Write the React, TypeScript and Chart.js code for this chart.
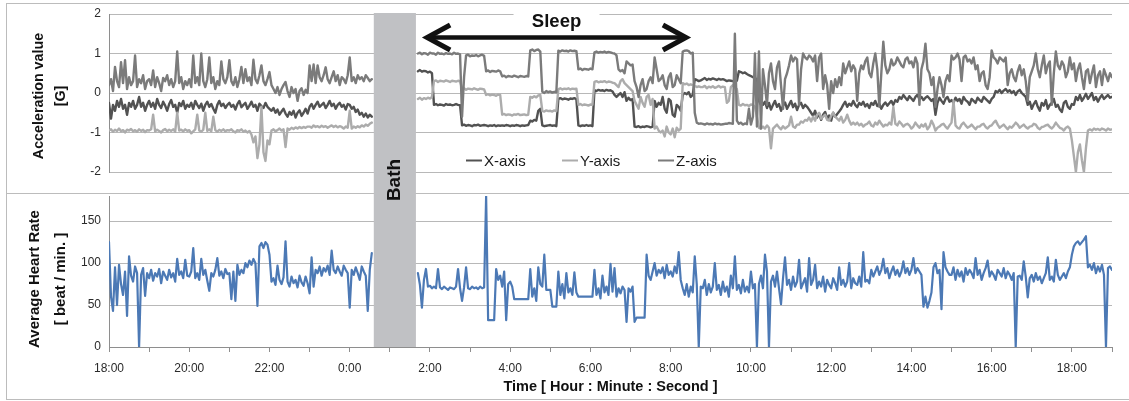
import React, { useEffect, useRef } from 'react';
import { Chart, registerables } from 'chart.js';

Chart.register(...registerables);

// ---------- data (one sample every 3 minutes, starting 18:00) ----------
const SAMPLE_HOURS = 0.05;
const xTickLabels = ['18:00', '20:00', '22:00', '0:00', '2:00', '4:00', '6:00', '8:00', '10:00', '12:00', '14:00', '16:00', '18:00'];
const accTicks = [-2, -1, 0, 1, 2];
const hrTicks = [0, 50, 100, 150];
const bathStartHour = 6.6;
const bathEndHour = 7.65;
const sleepStartHour = 7.83;
const sleepEndHour = 14.48;
const seriesNames = ['X-axis', 'Y-axis', 'Z-axis'];

const N = null;
const bathGap = [N, N, N, N, N, N, N, N, N, N, N, N, N, N, N, N, N, N, N, N, N, N];

const accX = [
  -0.25, -0.65, -0.3, -0.45, -0.2, -0.35, -0.15, -0.4, -0.3, -0.55, -0.25, -0.35, -0.2, -0.4, -0.3, -0.1, -0.35, -0.25, -0.45, -0.3,
  -0.2, -0.35, -0.25, -0.4, -0.15, -0.3, -0.38, -0.22, -0.32, -0.45, -0.28, -0.18, -0.35, -0.3, -0.5, -0.25, -0.33, -0.2, -0.4, -0.3,
  -0.35, -0.25, -0.4, -0.2, -0.3, -0.38, -0.27, -0.45, -0.3, -0.22, -0.35, -0.28, -0.4, -0.5, -0.3, -0.2, -0.33, -0.27, -0.38, -0.3,
  -0.25, -0.35, -0.3, -0.42, -0.28, -0.2, -0.36, -0.3, -0.25, -0.4, -0.32, -0.22, -0.35, -0.3, -0.45, -0.27, -0.33, -0.38, -0.25, -0.35,
  -0.4, -0.45, -0.38, -0.5, -0.42, -0.55, -0.47, -0.4, -0.52, -0.6, -0.48, -0.55, -0.45, -0.62, -0.5, -0.44, -0.58, -0.5, -0.4, -0.52,
  -0.35, -0.28, -0.4, -0.3, -0.22, -0.35, -0.3, -0.25, -0.38, -0.3, -0.2, -0.33, -0.27, -0.4, -0.3, -0.25, -0.35, -0.3, -0.42, -0.28,
  -0.3, -0.4, -0.35, -0.48, -0.42, -0.55, -0.5, -0.6, -0.52, -0.62, -0.55, -0.6,
  ...bathGap,
  0.55, 0.58, 0.54, 0.56, 0.55, 0.52, 0.54, 0.5,
  -0.3, -0.28, -0.31, -0.29, -0.3, -0.32, -0.28, -0.3, -0.29, -0.31, -0.3, -0.28, -0.3, -0.31,
  -0.82, -0.8, -0.83, -0.81, -0.82, -0.84, -0.81, -0.82, -0.8, -0.83, -0.82, -0.81,
  -0.82, -0.84, -0.82, -0.83, -0.81, -0.84, -0.82, -0.83,
  -0.82, -0.83, -0.81, -0.82, -0.84, -0.82, -0.83, -0.81, -0.82, -0.84, -0.82, -0.83, -0.82, -0.81,
  -0.7, -0.72, -0.68, -0.7, -0.45, -0.4,
  -0.82, -0.84, -0.83, -0.82, -0.81, -0.83, -0.82, -0.84,
  -0.15, -0.13, -0.16, -0.14, -0.15, -0.17, -0.14, -0.15, -0.13, -0.16,
  -0.82, -0.84, -0.82, -0.83, -0.81, -0.83, -0.82, -0.84,
  0.07, 0.05, 0.08, 0.06, 0.07, 0.05, 0.08, 0.06, 0.07, 0.04, -0.05, -0.1,
  -0.05, 0.0, -0.1, 0.02, -0.2, -0.12, -0.18, -0.15,
  -0.85, -0.86, -0.84, -0.87, -0.85, -0.86, -0.84, -0.85, -0.87, -0.85,
  -0.2, -0.35, -0.25, -0.3,
  -0.1, -0.4, -0.5, -0.15, -0.2, -0.55, -0.6, -0.3, -0.35, -0.45,
  -0.05, 0.0, -0.03, 0.02, -0.1, -0.05,
  0.35, 0.33, 0.3, 0.32,
  0.35, 0.38, 0.33, 0.36, 0.34, 0.37, 0.35, 0.33, 0.36, 0.34, 0.35, 0.33,
  0.3, 0.32, 0.31, 0.3,
  0.3, 0.31,
  0.55, 0.53, 0.5, 0.52, 0.48, 0.45, 0.43, 0.4, 0.38, 0.35, -0.2, -0.3,
  -0.3, -0.22, -0.38, -0.25, -0.42, -0.3, -0.2, -0.35, -0.28, -0.45, -0.32, -0.24, -0.4, -0.3, -0.2, -0.36, -0.27, -0.43, -0.3, -0.25, -0.38, -0.3, -0.35, -0.42,
  -0.5, -0.58, -0.45, -0.62, -0.52, -0.68, -0.55, -0.48, -0.65, -0.57, -0.7, -0.5, -0.6, -0.53, -0.47, -0.4,
  -0.3, -0.22, -0.35, -0.27, -0.32, -0.2, -0.3, -0.36, -0.25, -0.3, -0.22, -0.34, -0.28, -0.38, -0.25, -0.3, -0.2, -0.33, -0.27, -0.4, -0.3, -0.24, -0.32, -0.26, -0.2, -0.3, -0.18, -0.22,
  -0.1, -0.15, -0.05, -0.12, -0.18, -0.08, -0.14, -0.2, -0.1, -0.05, -0.15, -0.1, -0.18, -0.12, -0.08, -0.14,
  -0.2, -0.15, -0.55, -0.25, -0.12, -0.2, -0.27, -0.15, -0.1, -0.22, -0.18, -0.25, -0.12, -0.2, -0.15, -0.27, -0.1, -0.18, -0.22, -0.3, -0.15, -0.2, -0.25, -0.12, -0.18, -0.22, -0.1, -0.15, -0.2, -0.25, -0.15, -0.1,
  0.05, 0.02, 0.08, 0.0, 0.06, 0.1, 0.03, 0.07, 0.0, 0.05, -0.05, 0.04, 0.08, 0.0, -0.05, -0.1,
  -0.3, -0.22, -0.4, -0.28, -0.2, -0.35, -0.45, -0.25, -0.32, -0.18, -0.4, -0.3, -0.25, -0.15, -0.35, -0.3, -0.42, -0.48, -0.25, -0.2, -0.35, -0.4, -0.28, -0.3,
  -0.1, -0.18, -0.05, -0.2, -0.12, -0.02, -0.15, -0.08, 0.0, -0.18, -0.1, -0.22, -0.12, -0.05, -0.15, -0.1, -0.05, -0.12, -0.1,
];

const accY = [
  -0.95, -0.92, -0.98, -0.93, -0.96, -0.9, -0.97, -0.94, -1.0, -0.93, -0.95, -0.91, -0.97, -0.94, -0.98, -0.92, -0.96, -0.93, -0.99, -0.94,
  -0.95, -0.92, -0.55, -0.97, -0.93, -0.96, -1.0, -0.94, -0.91, -0.97, -0.93, -0.96, -0.92, -0.98, -0.5, -0.95, -0.93, -0.97, -0.92, -0.96,
  -0.94, -1.02, -0.97, -0.92, -0.55, -0.95, -0.98, -0.93, -0.5, -0.96, -0.92, -0.97, -0.6, -0.94, -0.98, -0.93, -0.96, -0.92, -0.97, -0.94,
  -0.95, -0.92, -0.97, -1.0, -0.94, -0.96, -0.92, -0.98, -0.95, -1.0, -0.96, -1.05, -1.25, -1.1, -1.65, -1.3, -0.35, -1.5, -1.72, -1.2,
  -1.3, -0.95, -0.92, -0.97, -0.94, -0.9, -0.95, -0.92, -1.37, -0.9, -0.93, -0.88, -0.91, -0.87, -0.9, -0.86, -0.89, -0.86, -0.88, -0.85,
  -0.85, -0.88, -0.82, -0.86, -0.84, -0.87, -0.83, -0.86, -0.84, -0.88, -0.85, -0.82, -0.86, -0.83, -0.87, -0.84, -0.86, -0.9, -0.85, -0.88,
  -0.45, -0.9, -0.85, -0.88, -0.84, -0.87, -0.82, -0.85, -0.8, -0.83, -0.78, -0.75,
  ...bathGap,
  -0.15, -0.12, -0.17, -0.13, -0.15, -0.12, -0.14, -0.1,
  0.3, 0.32, 0.28, 0.31, 0.3, 0.29, 0.32, 0.3, 0.28, 0.31, 0.3, 0.29, 0.31, 0.3,
  0.1, 0.12, 0.08, 0.11, 0.1, 0.09, 0.12, 0.1, 0.08, 0.11, 0.1, 0.09,
  -0.05, -0.03, -0.06, -0.04, -0.05, -0.07, -0.04, -0.05,
  -0.55, -0.53, -0.56, -0.54, -0.55, -0.57, -0.54, -0.55, -0.53, -0.56, -0.55, -0.54, -0.56, -0.55,
  -0.1, -0.12, -0.08, -0.11, -0.06, -0.05,
  -0.45, -0.47, -0.44, -0.46, -0.45, -0.47, -0.44, -0.46,
  0.1, 0.12, 0.09, 0.11, 0.1, 0.12, 0.09, 0.11, 0.1, 0.11,
  -0.3, -0.28, -0.31, -0.29, -0.3, -0.32, -0.29, -0.3,
  0.28, 0.3, 0.27, 0.29, 0.28, 0.3, 0.27, 0.29, 0.28, 0.26, 0.25, 0.2,
  0.15, 0.3, 0.35, 0.25, 0.2, 0.15, 0.1, 0.05,
  -0.2, -0.3, -0.4, -0.1, -0.25, -0.35, -0.1, -0.05, -0.3, -0.15,
  -0.9, -0.85, -0.95, -1.0,
  -0.95, -1.1, -0.85, -1.0, -1.05, -0.9, -1.12, -0.88, -0.95, -0.9,
  0.25, 0.22, 0.24, 0.2, 0.22, 0.2,
  0.18, 0.15, 0.17, 0.15,
  0.15, 0.18, 0.12, 0.16, 0.14, 0.17, 0.13, 0.15, 0.18, 0.14, 0.16, 0.15,
  -0.25, -0.2, 0.15, 0.2,
  0.15, 0.1,
  -0.3, -0.32, -0.28, -0.31, -0.3, -0.33, -0.29, -0.3, -0.35, -0.6, -0.88, -0.9,
  -0.85, -0.9, -0.82, -0.88, -1.4, -0.9, -0.85, -0.8, -0.87, -0.92, -0.84, -0.9, -0.86, -0.82, -0.6, -0.85, -0.88, -0.8,
  -0.8, -0.72, -0.75, -0.68, -0.7, -0.62, -0.72, -0.6, -0.7, -0.55, -0.5, -0.65, -0.6, -0.55, -0.68, -0.7, -0.58, -0.5, -0.6, -0.65, -0.7, -0.6, -0.75, -0.68, -0.55, -0.7, -0.8, -0.75,
  -0.8, -0.75, -0.82, -0.78, -0.85, -0.8, -0.78, -0.72, -0.82, -0.85, -0.75, -0.8, -0.7, -0.78, -0.85, -0.8, -0.82, -0.75, -0.8, -0.35, -0.78, -0.82, -0.72, -0.78, -0.85, -0.8, -0.78, -0.82,
  -0.9, -0.85, -0.75, -0.82, -0.88, -0.8, -0.85, -0.78, -0.92, -0.85, -0.7, -0.8, -0.95, -0.88, -0.85, -0.8, -0.78, -0.85, -0.9, -0.82, -0.75, -0.2, -0.82, -0.88, -0.9, -0.8, -0.75, -0.82, -0.88, -0.85, -0.8, -0.86, -0.92, -0.85,
  -0.85, -0.8, -0.78, -0.86, -0.9, -0.84, -0.82, -0.75, -0.7, -0.8, -0.88, -0.84, -0.8, -0.86, -0.92, -0.85, -0.88, -0.82, -0.75, -0.8, -0.88, -0.84, -0.8, -0.86, -0.9, -0.85, -0.84, -0.78, -0.8, -0.88, -0.92, -0.86, -0.85, -0.82, -0.8, -0.86, -0.9, -0.84, -0.75, -0.82, -0.88, -0.9, -0.95, -0.88, -0.85, -0.9,
  -1.2, -1.6, -2.0, -1.5, -1.3, -1.7, -2.0, -1.4, -0.95,
  -0.92, -0.95, -0.9, -0.93, -0.91, -0.94, -0.9, -0.92, -0.95, -0.9, -0.93, -0.92,
];

const accZ = [
  0.2, 0.35, 0.05, 0.66, 0.3, 0.15, 0.78, 0.25, 0.83, 0.1, 0.4, 0.2, 0.3, 0.95, 0.15, 0.35, 0.25, 0.45, 0.1, 0.3,
  0.35, 0.2, 0.57, 0.15, 0.4, 0.25, 0.05, 0.38, 0.3, 0.45, 0.2, 0.35, 0.15, 0.3, 1.05, 0.25, 0.4, 0.1, 0.3, 0.2,
  0.35, 0.15, 0.95, 0.25, 0.4, 0.2, 1.0, 0.3, 0.15, 0.35, 0.9, 0.25, 0.4, 0.1, 0.3, 0.2, 0.8, 0.35, 0.25, 0.4,
  0.83, 0.3, 0.2, 0.4, 0.15, 0.35, 0.66, 0.25, 0.6, 0.3, 0.4, 0.2, 0.84, 0.35, 0.25, 0.45, 0.7, 0.3, 0.2, 0.35,
  0.53, 0.2, 0.1, 0.0, 0.15, -0.05, 0.1, 0.2, 0.28, 0.05, -0.1, 0.15, 0.0, 0.1, -0.2, 0.05, 0.12, -0.05, 0.08, 0.0,
  0.7, 0.3, 0.72, 0.25, 0.7, 0.4, 0.3, 0.45, 0.65, 0.35, 0.25, 0.4, 0.55, 0.3, 0.45, 0.2, 0.4, 0.35, 0.25, 0.45,
  0.9, 0.3, 0.4, 0.25, 0.45, 0.35, 0.4, 0.3, 0.45, 0.38, 0.3, 0.35,
  ...bathGap,
  1.0, 1.02, 0.98, 1.01, 1.0, 0.97, 1.02, 1.0,
  1.0, 0.97, 1.02, 0.99, 1.0, 0.98, 1.01, 0.99, 1.0, 0.98, 1.02, 0.99, 1.0, 0.98,
  -0.6, 0.4, 0.95, 0.97, 0.93, 0.95, 0.94, 0.96, 0.93, 0.95, 0.97, 0.94,
  0.55, 0.57, 0.53, 0.56, 0.55, 0.54, 0.57, 0.55,
  0.42, 0.44, 0.4, 0.43, 0.42, 0.41, 0.44, 0.42, 0.4, 0.43, 0.42, 0.41, 0.43, 0.42,
  1.08, 1.1, 1.06, 1.09, 1.1, 1.05,
  0.03, 0.0, 0.05, 0.02, 0.04, 0.01, 0.03, 0.02,
  1.07, 1.05, 1.08, 1.06, 1.07, 1.05, 1.08, 1.06, 1.07, 1.06,
  0.6, 0.62, 0.58, 0.61, 0.6, 0.59, 0.62, 0.6,
  1.03, 1.05, 1.02, 1.04, 1.03, 1.05, 1.02, 1.04, 1.03, 1.01, 1.0, 0.95,
  0.6, 0.55, 0.58, 0.5, 0.8, 0.75, 0.7, 0.72,
  0.3, 0.15, -0.1, 0.2, 0.35, 0.05, 0.1, 0.3, 0.4, 0.25,
  0.9, 0.6, 0.3, 0.35,
  0.45, 0.2, 0.1, 0.4, 0.5, 0.15, 0.2, 0.45, 0.35, 0.25,
  1.05, 1.07, 1.08, 1.06, 1.0, 1.02,
  -0.5, -0.75, -0.78, -0.77,
  -0.78, -0.8, -0.77, -0.79, -0.78, -0.8, -0.77, -0.79, -0.78, -0.8, -0.79, -0.78,
  -0.78, -0.76, -0.77, -0.78,
  1.5, -0.7,
  -0.78, -0.75, -0.8, -0.77, -0.79, -0.4, -0.8, -0.6, 1.0, -0.85, 1.05, -0.9,
  0.6, 0.2, -0.3, 0.5, 0.75, 0.3, 0.1, 0.65, 0.8, 0.2, -0.4, 0.35, 0.5, 0.7,
  0.95, 0.8, 0.9, 0.85, -0.3, 0.6, 1.0, 0.9, 0.85, 0.95, 0.9, 0.8, 0.95, 0.3, 0.9, 1.0,
  0.1, 0.45, 0.2, -0.4, 0.3, 0.0, 0.35, 0.15, 0.4, 0.2,
  0.75, 0.5, 0.65, 0.8, 0.55, 0.7, 0.6, -0.2, 0.5, 0.7, 0.6, 0.8,
  0.9, 0.5, 0.4, 0.75, 1.0, 0.6, -0.35, 0.5, 1.3, 0.7, 0.5, 0.6,
  0.85, 0.7, 0.75, 0.9, 0.8, 0.7, 0.65, 0.85, 0.9, 0.75, 0.8, 0.65, 0.9, 0.75, -0.3, 0.6, 0.8, 1.25, 0.6, 0.5,
  0.2, 0.4, -0.35, 0.1, 0.4, 0.2, -0.1, 0.3, 0.45, 0.3,
  0.95, 0.85, 0.9, 1.0, 0.85, 0.3, 0.9, 0.95, 0.8, 0.85, 0.75, 0.9, 0.6, 0.7,
  0.3, 0.5, 0.55, 0.2, 0.1, 0.4,
  1.08, 0.9, 0.85, 0.75, 0.9, 0.85, 0.8, 0.9, 0.2, 0.5,
  0.6, 0.4, 0.3, 0.55, 0.7, 0.45, 0.6, 0.3, -0.2, 0.4, 0.55, 0.7,
  1.0, 0.6, 0.4, 0.7, 0.95, 0.5, 0.7, 0.8, -0.3, 0.5,
  1.05, 0.7, 0.6, 0.8, 0.7, 0.4, 0.55, 0.9, 0.6, 0.75,
  0.3, 0.6, 0.75, 0.4, 0.1, 0.55, 0.6, 0.25, 0.5, 0.7, 0.15, 0.45, 0.55, 0.2, 0.6, 0.45, 0.3, 0.5, 0.4,
];

const heartRate = [
  125, 60, 43, 95, 50, 98, 75, 62, 90, 37, 108, 85, 78, 96, 88, 0, 86, 94, 61, 88,
  82, 92, 79, 88, 84, 93, 76, 90, 85, 80, 92, 83, 88, 78, 105, 86, 90, 82, 104, 85,
  84, 90, 118, 82, 88, 80, 105, 86, 92, 79, 67, 88, 84, 92, 106, 85, 90, 82, 93, 87,
  88, 57, 90, 55, 98, 86, 92, 88, 100, 95, 103, 98, 105, 100, 49, 120, 124, 118, 125, 122,
  110, 78, 82, 74, 97, 80, 75, 83, 126, 78, 72, 84, 76, 80, 71, 85, 77, 73, 84, 76,
  64, 107, 72, 92, 88, 96, 85, 94, 90, 97, 86, 115, 92, 88, 96, 90, 85, 97, 92, 88,
  47, 92, 86, 95, 88, 80, 96, 90, 85, 43, 92, 112,
  ...bathGap,
  88, 74, 47, 80, 93, 72, 73, 70,
  72, 70, 93, 71, 69, 72, 70, 68, 71, 70, 69, 72, 93, 70, 55, 71, 95, 70, 69, 72, 70, 71, 69, 72, 70, 71,
  180, 32, 32, 32, 32, 93, 80, 85, 72, 90, 32, 75, 78, 72,
  57, 57, 57, 57, 57, 57, 57, 57,
  93, 60, 70, 55, 95, 75, 72, 110, 68, 68, 68, 48, 48, 48,
  90, 62, 75, 58, 88, 65, 70, 62, 89, 65, 60, 60, 60, 60, 60, 60, 60, 60,
  92, 62, 70, 58, 85, 65, 72, 62, 99, 66, 94, 60, 70, 64, 72, 68, 30, 70, 66, 72, 30, 35, 35, 35, 35, 35, 110, 85, 80, 90,
  100, 85, 92, 88, 95, 82, 98, 86, 90, 84, 96, 88, 113, 80, 70, 62, 75, 60, 72, 65, 108, 75, 0, 72,
  70, 80, 62, 75, 65, 72, 100, 68, 74, 62, 78, 66, 72, 60, 85, 70, 108, 68, 74, 64, 80, 66, 72, 65, 90, 70, 75, 0,
  75, 85, 70, 110, 90, 0,
  78, 85, 72, 90, 70, 51, 82, 107, 74, 80, 68, 84, 72, 78, 104, 70, 76, 82, 66, 106, 74, 80, 98, 70, 78, 72, 84, 66, 80, 74, 70, 82, 76, 68, 95, 74, 80, 72, 78, 100, 70, 82, 76, 74, 84, 72, 113, 78, 80, 76,
  92, 84, 90, 96, 86, 92, 105, 88, 94, 82, 90, 96, 86, 92, 84, 90, 102, 88, 94, 86, 92, 106, 88, 94, 90, 86,
  48, 60, 47, 55, 65, 95, 100, 88, 92, 45, 113, 95, 90, 86,
  86, 95, 80, 92, 84, 90, 78, 94, 86, 92, 88, 82, 106, 86, 92, 80, 88, 94, 103, 84, 90, 86, 80, 92, 88, 84, 94, 82, 90, 86, 80, 88,
  0, 84,
  85, 80, 102, 84, 59, 82, 86, 78, 88, 80, 84, 76, 82, 88, 107, 80, 84, 78, 104, 86, 80, 84, 88, 82, 90, 95,
  110, 120, 124, 126, 122, 125, 128, 132, 95, 98, 92, 100, 88, 96, 90, 98, 86, 0, 94, 96, 92,
];

// ---------- styling ----------
const FONT = "'Liberation Sans', Arial, Helvetica, sans-serif";
const COLOR_X = '#525252';
const COLOR_Y = '#acacac';
const COLOR_Z = '#7b7b7b';
const COLOR_HR = '#4c79b5';
const GRID = '#b8b8b8';
const AXIS = '#8e8e8e';
const TICK_TEXT = '#2a2a2a';
const BATH_FILL = '#c0c1c4';
const BATH_TEXT_PAGE_Y = 180;
const TOP_CANVAS_H = 194;
const BOTTOM_CANVAS_H = 207;

const toPoints = (values: (number | null)[]) => values.map((v, i) => ({ x: i * SAMPLE_HOURS, y: v }));

function bathPlugin(pageTop: number, isTop: boolean) {
  return {
    id: 'bathBand',
    beforeDatasetsDraw(chart: any) {
      const { ctx, chartArea, scales } = chart;
      const x0 = scales.x.getPixelForValue(bathStartHour);
      const x1 = scales.x.getPixelForValue(bathEndHour);
      const y0 = isTop ? chartArea.top - 1 : 0;
      const y1 = isTop ? chart.height : chartArea.bottom;
      ctx.save();
      ctx.fillStyle = BATH_FILL;
      ctx.fillRect(x0, y0, x1 - x0, y1 - y0);
      ctx.translate((x0 + x1) / 2, BATH_TEXT_PAGE_Y - pageTop);
      ctx.rotate(-Math.PI / 2);
      ctx.font = `bold 19px ${FONT}`;
      ctx.fillStyle = '#111';
      ctx.textAlign = 'center';
      ctx.textBaseline = 'middle';
      ctx.fillText('Bath', 0, 0);
      ctx.restore();
    },
  };
}

const sleepPlugin = {
  id: 'sleepArrow',
  afterDatasetsDraw(chart: any) {
    const { ctx, scales } = chart;
    const xs = scales.x.getPixelForValue(sleepStartHour);
    const xe = scales.x.getPixelForValue(sleepEndHour);
    const y = 37.5;
    ctx.save();
    ctx.strokeStyle = '#111';
    ctx.lineWidth = 4.5;
    ctx.beginPath();
    ctx.moveTo(xs + 5, y);
    ctx.lineTo(xe - 5, y);
    ctx.stroke();
    ctx.lineWidth = 5;
    ctx.lineJoin = 'miter';
    ctx.beginPath();
    ctx.moveTo(xs + 27, y - 12.5);
    ctx.lineTo(xs + 4, y);
    ctx.lineTo(xs + 27, y + 12.5);
    ctx.stroke();
    ctx.beginPath();
    ctx.moveTo(xe - 27, y - 12.5);
    ctx.lineTo(xe - 4, y);
    ctx.lineTo(xe - 27, y + 12.5);
    ctx.stroke();
    const cx = (xs + xe) / 2;
    ctx.fillStyle = '#ffffff';
    ctx.fillRect(cx - 43, 6, 86, 24);
    ctx.font = `bold 18.5px ${FONT}`;
    ctx.fillStyle = '#111';
    ctx.textAlign = 'center';
    ctx.textBaseline = 'alphabetic';
    ctx.fillText('Sleep', cx, 26.5);
    ctx.restore();
  },
};

const legendPlugin = {
  id: 'innerLegend',
  afterDraw(chart: any) {
    const { ctx } = chart;
    const y = 160.5;
    ctx.save();
    ctx.font = `15px ${FONT}`;
    ctx.textBaseline = 'middle';
    ctx.textAlign = 'left';
    seriesNames.forEach((name, k) => {
      const ds = chart.data.datasets[k];
      const x = 466 + k * 96;
      ctx.strokeStyle = ds.borderColor;
      ctx.lineWidth = 2;
      ctx.beginPath();
      ctx.moveTo(x, y);
      ctx.lineTo(x + 16, y);
      ctx.stroke();
      ctx.fillStyle = '#1a1a1a';
      ctx.fillText(name, x + 18, y + 1);
    });
    ctx.restore();
  },
};

function titlesPlugin(lines: string[], xs: number[], centerY: number, size: number, xTitle?: string) {
  return {
    id: 'axisTitles',
    afterDraw(chart: any) {
      const { ctx, chartArea } = chart;
      ctx.save();
      ctx.fillStyle = '#111';
      ctx.font = `bold ${size}px ${FONT}`;
      ctx.textAlign = 'center';
      ctx.textBaseline = 'middle';
      lines.forEach((t, k) => {
        ctx.save();
        ctx.translate(xs[k], centerY);
        ctx.rotate(-Math.PI / 2);
        ctx.fillText(t, 0, 0);
        ctx.restore();
      });
      if (xTitle) {
        ctx.font = `bold 14.5px ${FONT}`;
        ctx.fillText(xTitle, (chartArea.left + chartArea.right) / 2, 193);
      }
      ctx.restore();
    },
  };
}

export default function App() {
  const topRef = useRef<HTMLCanvasElement | null>(null);
  const botRef = useRef<HTMLCanvasElement | null>(null);

  useEffect(() => {
    const tickFont = { family: FONT, size: 12 };
    const top = new Chart(topRef.current as HTMLCanvasElement, {
      type: 'line',
      data: {
        datasets: [
          { label: seriesNames[0], data: toPoints(accX), borderColor: COLOR_X, order: 3 },
          { label: seriesNames[1], data: toPoints(accY), borderColor: COLOR_Y, order: 2 },
          { label: seriesNames[2], data: toPoints(accZ), borderColor: COLOR_Z, order: 1 },
        ] as any,
      },
      options: {
        animation: false,
        responsive: false,
        maintainAspectRatio: false,
        layout: { padding: { left: 0, right: 17, top: 14, bottom: 22 } },
        elements: {
          point: { radius: 0 },
          line: { borderWidth: 2.4, tension: 0, borderJoinStyle: 'round', borderCapStyle: 'round' },
        },
        plugins: { legend: { display: false }, tooltip: { enabled: false } },
        scales: {
          x: { type: 'linear', min: 0, max: 25, display: false },
          y: {
            min: accTicks[0],
            max: accTicks[accTicks.length - 1],
            afterBuildTicks: (s: any) => { s.ticks = accTicks.map((v) => ({ value: v })); },
            ticks: { padding: 8, color: TICK_TEXT, font: tickFont },
            grid: { color: GRID, drawTicks: false },
            border: { display: true, color: AXIS },
            afterFit: (s: any) => { s.width = 109; s.paddingTop = 0; s.paddingBottom = 0; },
          },
        },
      } as any,
      plugins: [
        bathPlugin(0, true),
        sleepPlugin,
        legendPlugin,
        titlesPlugin(['Acceleration value', '[G]'], [39, 61], 96, 14.3),
      ],
    });

    const bottom = new Chart(botRef.current as HTMLCanvasElement, {
      type: 'line',
      data: {
        datasets: [
          { label: 'Average Heart Rate', data: toPoints(heartRate), borderColor: COLOR_HR },
        ] as any,
      },
      options: {
        animation: false,
        responsive: false,
        maintainAspectRatio: false,
        layout: { padding: { left: 0, right: 17, top: 2, bottom: 0 } },
        elements: {
          point: { radius: 0 },
          line: { borderWidth: 2.2, tension: 0, borderJoinStyle: 'round', borderCapStyle: 'round' },
        },
        plugins: { legend: { display: false }, tooltip: { enabled: false } },
        scales: {
          x: {
            type: 'linear',
            min: 0,
            max: 25,
            ticks: {
              stepSize: 1,
              autoSkip: false,
              maxRotation: 0,
              padding: 9,
              color: TICK_TEXT,
              font: tickFont,
              callback: (v: any) => (Number(v) % 2 === 0 ? xTickLabels[Number(v) / 2] : ''),
            },
            grid: { drawOnChartArea: false, drawTicks: true, tickLength: 5, color: AXIS },
            border: { display: true, color: AXIS },
            afterFit: (s: any) => { s.height = 54; s.paddingLeft = 0; s.paddingRight = 0; },
          },
          y: {
            min: 0,
            max: 180,
            afterBuildTicks: (s: any) => { s.ticks = hrTicks.map((v) => ({ value: v })); },
            ticks: { padding: 8, color: TICK_TEXT, font: tickFont },
            grid: { color: GRID, drawTicks: false },
            border: { display: true, color: AXIS },
            afterFit: (s: any) => { s.width = 109; s.paddingTop = 0; s.paddingBottom = 0; },
          },
        },
      } as any,
      plugins: [
        bathPlugin(TOP_CANVAS_H, false),
        titlesPlugin(['Average Heart Rate', '[ beat / min. ]'], [35, 61], 85, 15, 'Time [ Hour : Minute : Second ]'),
      ],
    });

    return () => {
      top.destroy();
      bottom.destroy();
    };
  }, []);

  return (
    <div style={{ position: 'absolute', left: 0, top: 0, width: 1129, height: 401, overflow: 'hidden', background: '#ffffff' }}>
      <div style={{ position: 'absolute', left: 6, top: 3, width: 1140, height: 397, border: '1px solid #bcbcbc', boxSizing: 'border-box' }} />
      <div style={{ position: 'absolute', left: 6, top: 193, width: 1140, height: 1, background: '#bcbcbc' }} />
      <canvas ref={topRef} width={1129} height={TOP_CANVAS_H} style={{ position: 'absolute', left: 0, top: 0 }} />
      <canvas ref={botRef} width={1129} height={BOTTOM_CANVAS_H} style={{ position: 'absolute', left: 0, top: TOP_CANVAS_H }} />
    </div>
  );
}
